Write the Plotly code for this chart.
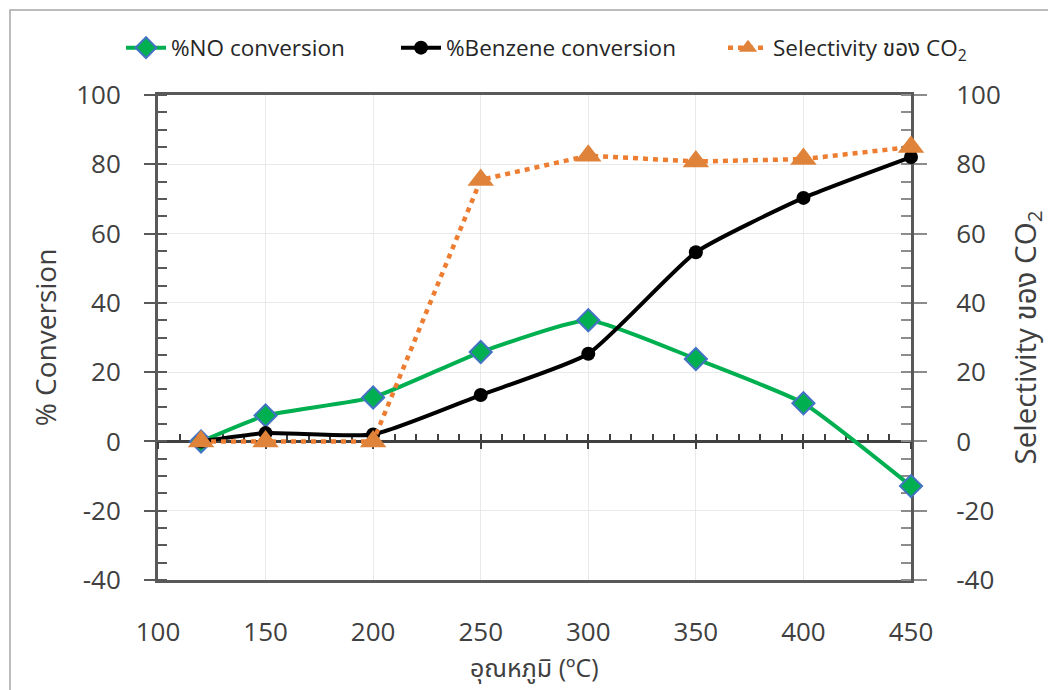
import plotly.graph_objects as go

temps = [120, 150, 200, 250, 300, 350, 400, 450]
no_conv = [0, 7.5, 12.7, 25.8, 35.0, 23.8, 11.0, -12.9]
benzene_conv = [0, 2.4, 2.0, 13.4, 25.3, 54.6, 70.3, 82.1]
co2_select = [0, 0, 0, 75.5, 82.5, 80.8, 81.5, 85.0]

x_ticks = [100, 150, 200, 250, 300, 350, 400, 450]
y_ticks = [-40, -20, 0, 20, 40, 60, 80, 100]
y_tick_text = ["-40", "-20", "0", "20", "40", "60", "80", "100"]

FONT = "Open Sans, Noto Sans, Noto Sans Thai, Tahoma, sans-serif"
AX = "#595959"
GRID = "#E9E9E9"
TICK_SIZE = 26
TITLE_SIZE = 28

W, H = 1048, 690
L, R, T, B = 158, 137, 95, 110
pw, ph = W - L - R, H - T - B

def px_x(p):
    return (p - L) / pw

def px_y(p):
    return 1 - (p - T) / ph

fig = go.Figure()

zero_pos = (0 - y_ticks[0]) / (y_ticks[-1] - y_ticks[0])

fig.add_trace(go.Scatter(
    x=temps, y=no_conv, name="%NO conversion", mode="lines+markers",
    line=dict(color="#00B050", width=4, shape="spline", smoothing=0.45),
    marker=dict(symbol="diamond", size=17, color="#00B050",
                line=dict(color="#4472C4", width=2)),
    legend="legend", cliponaxis=False,
))
fig.add_trace(go.Scatter(
    x=temps, y=benzene_conv, name="%Benzene conversion", mode="lines+markers",
    line=dict(color="#000000", width=4, shape="spline", smoothing=0.5),
    marker=dict(symbol="circle", size=14, color="#000000"),
    legend="legend2", cliponaxis=False,
))
fig.add_trace(go.Scatter(
    x=temps, y=co2_select, name="Selectivity ของ CO<sub>2</sub>", mode="lines+markers",
    line=dict(color="#ED7D31", width=4.5, dash="5px,5px"),
    marker=dict(symbol="triangle-up", size=23, color="#E0833A"),
    yaxis="y2", xaxis="x", legend="legend3", cliponaxis=False,
))
# tick-only axes running along y = 0
fig.add_trace(go.Scatter(x=[None], y=[None], xaxis="x2", yaxis="y", showlegend=False, hoverinfo="skip"))
fig.add_trace(go.Scatter(x=[None], y=[None], xaxis="x3", yaxis="y", showlegend=False, hoverinfo="skip"))

leg_font = dict(size=22.5, color="#262626")

def leg(px):
    return dict(orientation="h", x=px_x(px), y=px_y(48), xanchor="left", yanchor="middle",
                bgcolor="rgba(0,0,0,0)", font=leg_font, itemwidth=40)

fig.update_layout(
    width=W, height=H,
    margin=dict(l=L, r=R, t=T, b=B, autoexpand=False),
    paper_bgcolor="white", plot_bgcolor="white",
    font=dict(family=FONT, size=TICK_SIZE, color="#404040"),
    xaxis=dict(
        range=[x_ticks[0], x_ticks[-1]], tickvals=x_ticks,
        showgrid=True, gridcolor=GRID, gridwidth=1,
        showline=True, linecolor=AX, linewidth=3, mirror=True,
        ticks="", zeroline=False, ticklabelstandoff=27, layer="below traces",
    ),
    xaxis2=dict(
        overlaying="x", anchor="free", position=zero_pos,
        range=[x_ticks[0], x_ticks[-1]], tickvals=x_ticks,
        showgrid=False, showline=False,
        ticks="outside", ticklen=7, tickwidth=2, tickcolor="#404040",
        showticklabels=False, zeroline=False, layer="below traces",
    ),
    xaxis3=dict(
        overlaying="x", anchor="free", position=zero_pos,
        range=[x_ticks[0], x_ticks[-1]], dtick=10, tick0=100,
        showgrid=False, showline=False,
        ticks="inside", ticklen=7, tickwidth=2, tickcolor="#404040",
        showticklabels=False, zeroline=False, layer="below traces",
    ),
    yaxis=dict(
        range=[y_ticks[0], y_ticks[-1]], tickvals=y_ticks, ticktext=y_tick_text,
        showgrid=True, gridcolor=GRID, gridwidth=1,
        showline=True, linecolor=AX, linewidth=3,
        ticks="outside", ticklen=11, tickwidth=2, tickcolor=AX,
        minor=dict(dtick=5, ticks="inside", ticklen=9, tickwidth=1.5, tickcolor=AX, showgrid=False),
        zeroline=True, zerolinecolor="#404040", zerolinewidth=2.5,
        ticklabelstandoff=18, layer="below traces",
        title=dict(text="% Conversion", font=dict(size=TITLE_SIZE), standoff=12),
    ),
    yaxis2=dict(
        overlaying="y", side="right", anchor="x",
        range=[y_ticks[0], y_ticks[-1]], tickvals=y_ticks, ticktext=y_tick_text,
        showgrid=False, showline=True, linecolor=AX, linewidth=3,
        ticks="outside", ticklen=13, tickwidth=1.5, tickcolor="#8C8C8C",
        minor=dict(dtick=5, ticks="inside", ticklen=10, tickwidth=1.5, tickcolor="#8C8C8C"),
        zeroline=False, ticklabelstandoff=24, layer="below traces",
        title=dict(text="Selectivity ของ CO<sub>2</sub>", font=dict(size=TITLE_SIZE + 1.5), standoff=22),
    ),
    legend=leg(121),
    legend2=leg(396),
    legend3=leg(723),
    annotations=[dict(text="อุณหภูมิ (ºC)", xref="paper", yref="paper",
                      x=0.5, y=px_y(667), xanchor="center", yanchor="middle",
                      showarrow=False, font=dict(size=TITLE_SIZE - 3, color="#404040"))],
    shapes=[dict(type="rect", xref="paper", yref="paper",
                 x0=px_x(10), x1=px_x(1060), y0=px_y(700), y1=px_y(10),
                 line=dict(color="#A6A6A6", width=1.5), fillcolor="rgba(0,0,0,0)", layer="below")],
)

fig.write_html("out.html", config={"displayModeBar": False},
               post_script="document.body.style.margin='0';")
